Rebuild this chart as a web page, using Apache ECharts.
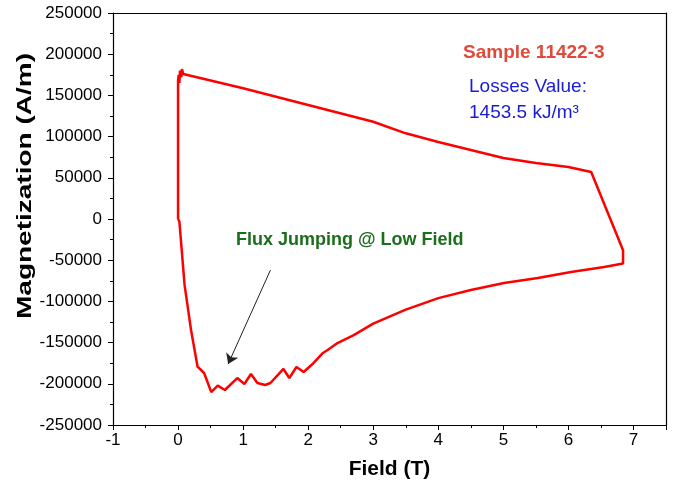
<!DOCTYPE html>
<html>
<head>
<meta charset="utf-8">
<script src="https://cdn.jsdelivr.net/npm/echarts@6/dist/echarts.min.js"></script>
<style>html,body{margin:0;padding:0;background:#fff}#c{width:674px;height:482px}</style>
</head>
<body>
<div id="c"></div>
<script>
// Field (T)
var fieldT = [0, 0, 0.01, 0.02, 0.03, 0.05, 0.06, 0.08, 0.1, 1.0, 2.0, 3.0, 3.5, 4.0, 4.5, 5.0, 5.5, 6.0, 6.35, 6.84, 6.84,
  6.55, 6.04, 5.53, 5.01, 4.5, 4.0, 3.5, 3.0, 2.7, 2.45, 2.3, 2.22, 2.08, 1.93, 1.82, 1.71, 1.62, 1.42, 1.34, 1.22, 1.12,
  1.02, 0.91, 0.72, 0.61, 0.51, 0.40, 0.30, 0.20, 0.10, 0.02, 0];
// Magnetization (A/m)
var magnetization = [0, 168000, 175000, 165000, 180000, 172000, 182000, 176000, 177000, 158700, 138400, 118000, 104000, 93400, 83700, 74000, 68000, 63000, 57000, -38000, -54000,
  -58300, -64300, -71600, -77700, -86200, -96000, -110000, -127000, -141000, -150500, -159000, -163000, -175000, -185700, -179600, -193000, -182000, -199000, -201500, -199000, -188100,
  -200200, -193000, -207500, -202300, -210000, -186900, -179200, -135000, -80000, -3000, 0];
var xTicks = [-1, 0, 1, 2, 3, 4, 5, 6, 7];
var yTicks = [-250000, -200000, -150000, -100000, -50000, 0, 50000, 100000, 150000, 200000, 250000];
var arrowFrom = [1.42, -62000];
var arrowTo = [0.77, -176000];

var pts = fieldT.map(function (x, i) { return [x, magnetization[i]]; });
var FF = 'Arial, "Liberation Sans", sans-serif';
var chart = echarts.init(document.getElementById('c'));
chart.setOption({
  animation: false,
  backgroundColor: '#fff',
  grid: { left: 113, right: 8, top: 13, bottom: 57, containLabel: false, outerBoundsMode: 'none' },
  xAxis: [{
    type: 'value', min: -1, max: 7.5, interval: 1,
    name: 'Field (T)', nameLocation: 'middle', nameGap: 34,
    nameTextStyle: { fontFamily: FF, fontSize: 21, fontWeight: 'bold', color: '#000' },
    axisLine: { show: true, onZero: false, lineStyle: { color: '#000', width: 1.2 } },
    axisTick: { show: true, inside: false, length: 5, lineStyle: { color: '#000' } },
    minorTick: { show: true, splitNumber: 2, length: 3, lineStyle: { color: '#000' } },
    axisLabel: { fontFamily: FF, fontSize: 17, color: '#000', margin: 7,
      formatter: function (v) { return xTicks.indexOf(v) >= 0 ? String(v) : ''; } },
    splitLine: { show: false }
  }, {
    type: 'value', min: -1, max: 7.5, position: 'top',
    axisLine: { show: true, onZero: false, lineStyle: { color: '#000', width: 1.2 } },
    axisTick: { show: false }, axisLabel: { show: false }, splitLine: { show: false }
  }],
  yAxis: [{
    type: 'value', min: -250000, max: 250000, interval: 50000,
    axisLine: { show: true, onZero: false, lineStyle: { color: '#000', width: 1.2 } },
    axisTick: { show: true, inside: false, length: 5, lineStyle: { color: '#000' } },
    minorTick: { show: true, splitNumber: 2, length: 3, lineStyle: { color: '#000' } },
    axisLabel: { fontFamily: FF, fontSize: 17, color: '#000', margin: 11,
      formatter: function (v) { return yTicks.indexOf(v) >= 0 ? String(v) : ''; } },
    splitLine: { show: false }
  }, {
    type: 'value', min: -250000, max: 250000, position: 'right',
    axisLine: { show: true, onZero: false, lineStyle: { color: '#000', width: 1.2 } },
    axisTick: { show: false }, axisLabel: { show: false }, splitLine: { show: false }
  }],
  series: [{
    type: 'line', data: pts, showSymbol: false, symbol: 'none',
    lineStyle: { color: '#ff0000', width: 2.5 },
    markLine: {
      silent: true, symbol: ['none', 'arrow'], symbolSize: 10,
      lineStyle: { color: '#222', width: 1, type: 'solid' },
      label: { show: false },
      data: [[{ coord: arrowFrom }, { coord: arrowTo }]]
    }
  }],
  graphic: [
    { type: 'text', x: 25, y: 186, rotation: Math.PI / 2, scaleX: 1.4,
      style: { text: 'Magnetization (A/m)', fontFamily: FF, fontSize: 20, fontWeight: 'bold', fill: '#000', align: 'center', verticalAlign: 'middle' } },
    { type: 'text', left: 463, top: 43, style: { text: 'Sample 11422-3', fontFamily: FF, fontSize: 19, fontWeight: 'bold', fill: '#e04a3a' } },
    { type: 'text', left: 469, top: 77, style: { text: 'Losses Value:', fontFamily: FF, fontSize: 19, fill: '#1a1ad8' } },
    { type: 'text', left: 469, top: 103, style: { text: '1453.5 kJ/m\u00B3', fontFamily: FF, fontSize: 19, fill: '#1a1ad8' } },
    { type: 'text', left: 236, top: 231, style: { text: 'Flux Jumping @ Low Field', fontFamily: FF, fontSize: 18, fontWeight: 'bold', fill: '#1b6e1b' } }
  ]
});
</script>
</body>
</html>
